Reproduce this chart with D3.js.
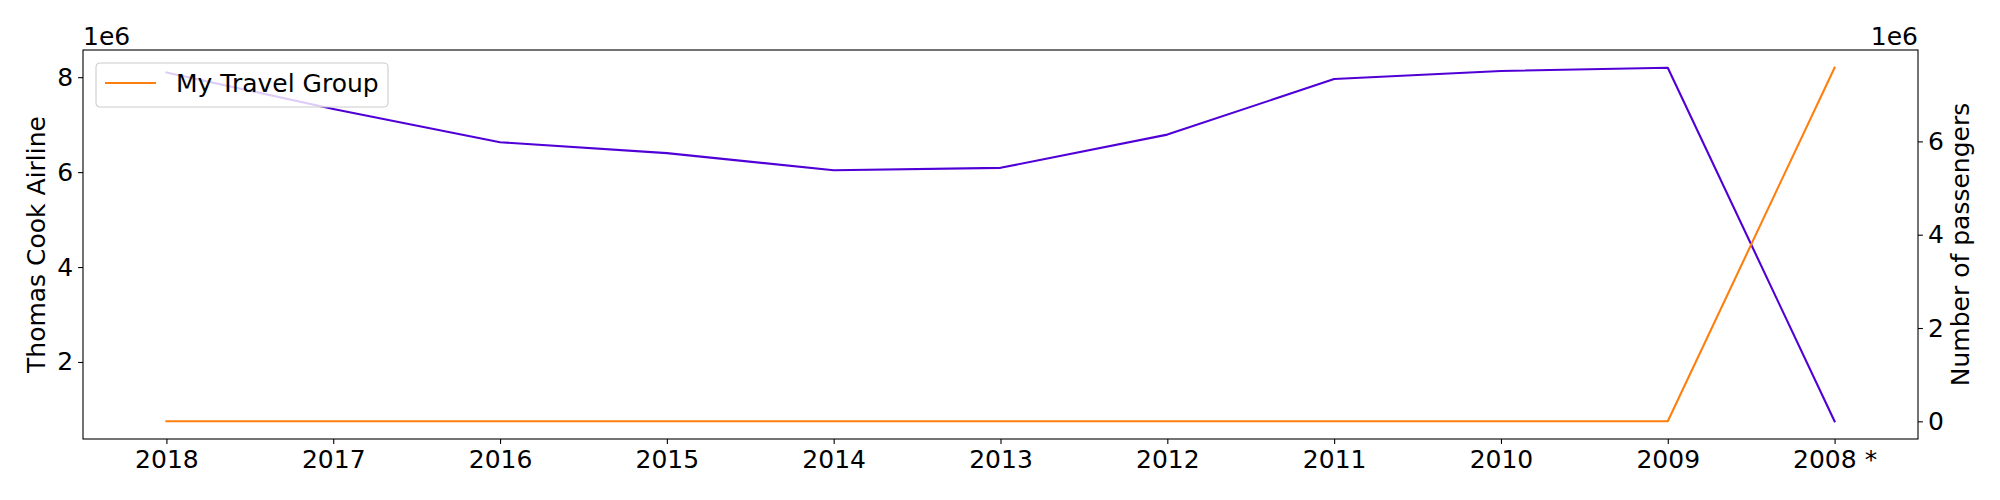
<!DOCTYPE html>
<html>
<head>
<meta charset="utf-8">
<script src="https://cdn.jsdelivr.net/npm/d3@7"></script>
<style>
  body { margin: 0; background: #fff; }
  svg text { font-family: "DejaVu Sans", sans-serif; fill: #000; }
</style>
</head>
<body>
<svg id="chart" width="2000" height="500"></svg>
<script>
// ---------------- data ----------------
var years = ["2018", "2017", "2016", "2015", "2014", "2013", "2012", "2011", "2010", "2009", "2008 *"];
var thomasCook = [8.10e6, 7.33e6, 6.63e6, 6.40e6, 6.04e6, 6.09e6, 6.79e6, 7.96e6, 8.13e6, 8.20e6, 0.75e6];
var myTravel   = [0, 0, 0, 0, 0, 0, 0, 0, 0, 0, 7.58e6];
var leftTicks  = [2e6, 4e6, 6e6, 8e6];
var rightTicks = [0, 2e6, 4e6, 6e6];

// ---------------- layout ----------------
var width = 2000, height = 500;
var margin = {top: 50, right: 82, bottom: 61, left: 83};
var innerW = width - margin.left - margin.right;
var innerH = height - margin.top - margin.bottom;
var fontSize = 25;

var svg = d3.select("#chart");
var g = svg.append("g").attr("transform", "translate(" + margin.left + "," + margin.top + ")");

// matplotlib style 5% margins
function padded(vals) {
  var lo = d3.min(vals), hi = d3.max(vals), m = (hi - lo) * 0.05;
  return [lo - m, hi + m];
}

var xScale = d3.scalePoint().domain(years).range([0, innerW]).padding(0.5);
// scalePoint with padding 0.5 gives half a step; matplotlib uses 5% of span
var step = innerW / (years.length - 1 + 0.1 * (years.length - 1));
xScale = d3.scalePoint().domain(years)
    .range([0.05 * step * (years.length - 1), innerW - 0.05 * step * (years.length - 1)]);

var yLeft = d3.scaleLinear().domain(padded(thomasCook)).range([innerH, 0]);
var yRight = d3.scaleLinear().domain(padded(myTravel)).range([innerH, 0]);

// ---------------- axes ----------------
var xAxis = g.append("g")
    .attr("transform", "translate(0," + innerH + ")")
    .call(d3.axisBottom(xScale).tickSize(4.9).tickPadding(6));

var yAxisL = g.append("g")
    .call(d3.axisLeft(yLeft).tickValues(leftTicks).tickSize(4.9).tickPadding(5)
      .tickFormat(function(d) { return d3.format("d")(d / 1e6); }));

var yAxisR = g.append("g")
    .attr("transform", "translate(" + innerW + ",0)")
    .call(d3.axisRight(yRight).tickValues(rightTicks).tickSize(4.9).tickPadding(5)
      .tickFormat(function(d) { return d3.format("d")(d / 1e6); }));

[xAxis, yAxisL, yAxisR].forEach(function(a) {
  a.select(".domain").remove();
  a.selectAll(".tick line").attr("stroke", "#000").attr("stroke-width", 1.1);
  a.selectAll(".tick text").style("font-size", fontSize + "px")
    .style("font-family", "DejaVu Sans, sans-serif");
});

// ---------------- lines ----------------
var lineL = d3.line()
    .x(function(d, i) { return xScale(years[i]); })
    .y(function(d) { return yLeft(d); });
var lineR = d3.line()
    .x(function(d, i) { return xScale(years[i]); })
    .y(function(d) { return yRight(d); });

g.append("path").datum(thomasCook)
    .attr("d", lineL)
    .attr("fill", "none")
    .attr("stroke", "#5000d6")
    .attr("stroke-width", 2.1)
    .attr("stroke-linejoin", "round")
    .attr("stroke-linecap", "square");

g.append("path").datum(myTravel)
    .attr("d", lineR)
    .attr("fill", "none")
    .attr("stroke", "#ff7f0e")
    .attr("stroke-width", 2.1)
    .attr("stroke-linejoin", "round")
    .attr("stroke-linecap", "square");

// ---------------- legend ----------------
var legend = g.append("g").attr("transform", "translate(13,13)");
legend.append("rect")
    .attr("width", 292).attr("height", 44)
    .attr("rx", 4).attr("ry", 4)
    .attr("fill", "#fff").attr("fill-opacity", 0.8)
    .attr("stroke", "#cccccc").attr("stroke-width", 1.1);
legend.append("line")
    .attr("x1", 9).attr("x2", 60).attr("y1", 20).attr("y2", 20)
    .attr("stroke", "#ff7f0e").attr("stroke-width", 2.1);
legend.append("text")
    .attr("x", 80).attr("y", 29)
    .style("font-size", fontSize + "px")
    .text("My Travel Group");

// ---------------- frame ----------------
g.append("rect")
    .attr("width", innerW).attr("height", innerH)
    .attr("fill", "none").attr("stroke", "#000").attr("stroke-width", 1.1);

// offset labels
g.append("text").attr("x", 0).attr("y", -5)
    .style("font-size", fontSize + "px").text("1e6");
g.append("text").attr("x", innerW).attr("y", -5)
    .attr("text-anchor", "end")
    .style("font-size", fontSize + "px").text("1e6");

// axis titles
svg.append("text")
    .attr("transform", "translate(45," + (margin.top + innerH / 2) + ") rotate(-90)")
    .attr("text-anchor", "middle")
    .style("font-size", fontSize + "px")
    .text("Thomas Cook Airline");
svg.append("text")
    .attr("transform", "translate(1969," + (margin.top + innerH / 2) + ") rotate(-90)")
    .attr("text-anchor", "middle")
    .style("font-size", fontSize + "px")
    .text("Number of passengers");
</script>
</body>
</html>
